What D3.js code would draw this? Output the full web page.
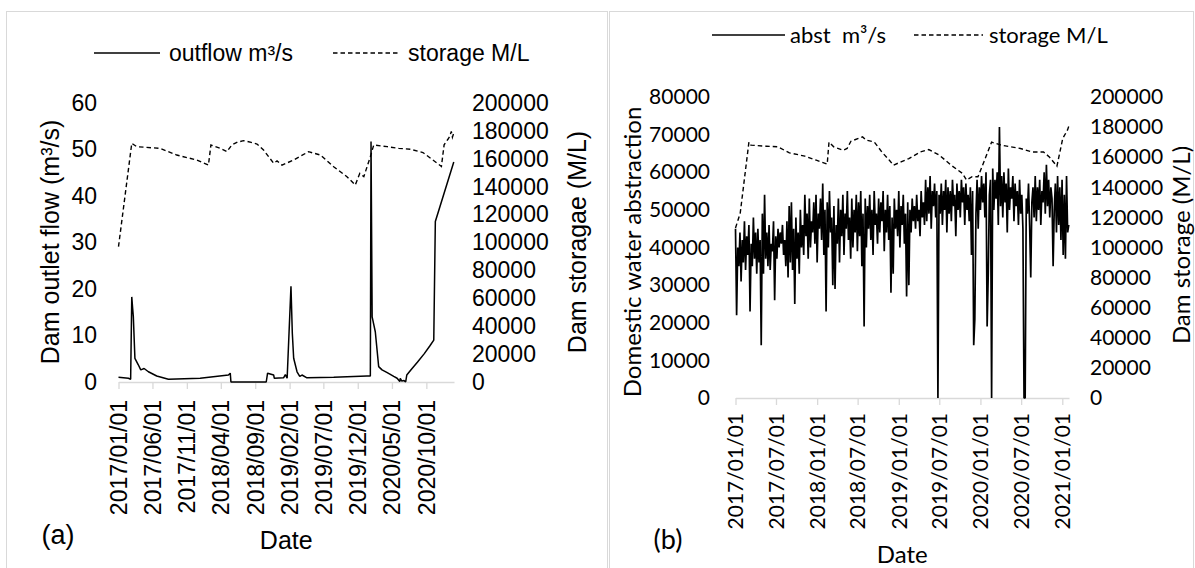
<!DOCTYPE html>
<html><head><meta charset="utf-8">
<script src="https://cdn.jsdelivr.net/npm/d3@7"></script>
<style>body{margin:0;background:#fff}</style>
</head><body><svg id="c" width="1195" height="568"></svg>
<script>
// ---------- Panel (a) data ----------
const outflowDates = ["2017-01-01","2017-02-14","2017-02-24","2017-03-01","2017-03-05","2017-03-08","2017-03-15","2017-03-30","2017-04-10","2017-04-25","2017-05-14","2017-06-20","2017-08-11","2017-12-30","2018-05-05","2018-05-13","2018-05-16","2018-10-20","2018-10-26","2018-11-22","2018-11-25","2019-01-05","2019-01-13","2019-01-21","2019-02-07","2019-02-13","2019-02-19","2019-03-06","2019-03-18","2019-03-28","2019-04-19","2019-08-16","2020-01-11","2020-01-26","2020-01-29","2020-02-03","2020-02-17","2020-03-03","2020-03-18","2020-04-10","2020-05-09","2020-05-24","2020-06-05","2020-06-07","2020-06-14","2020-06-24","2020-07-01","2020-07-06","2020-07-24","2020-08-23","2020-09-22","2020-10-17","2020-11-03","2020-11-06","2020-11-10","2021-01-31"];
const outflowValues = [1.0,0.8,0.6,18.3,15.8,14.0,5.1,3.7,2.6,2.9,2.2,1.3,0.6,0.8,1.5,1.9,0,0,1.9,1.5,0.8,0.9,1.6,0.8,20.6,10.5,5.1,2.2,1.2,1.5,0.9,1.0,1.3,1.3,51.7,14.0,10.8,3.3,2.6,2.0,1.2,0.8,0.1,0.8,0.2,0.3,0,1.5,2.6,4.3,6.1,7.8,9.0,20.0,34.5,47.3];
const storageADates = ["2017-01-01","2017-03-01","2017-03-23","2017-07-05","2017-09-17","2017-12-15","2018-02-05","2018-02-16","2018-03-29","2018-04-28","2018-05-20","2018-06-15","2018-07-11","2018-08-14","2018-09-09","2018-10-08","2018-11-22","2018-12-07","2018-12-29","2019-02-19","2019-04-26","2019-06-18","2019-08-16","2019-10-14","2019-11-20","2019-12-10","2019-12-28","2020-01-26","2020-02-10","2020-04-10","2020-05-31","2020-07-24","2020-09-16","2020-10-29","2020-12-07","2020-12-19","2021-01-05","2021-01-13","2021-01-20","2021-01-25","2021-01-31"];
const storageAValues = [97000,171100,168700,167500,162700,159100,155500,169900,167500,165100,169900,172000,173000,171800,170600,166300,156800,158500,155500,159100,165100,162700,154300,147200,141200,149600,147200,161500,169900,168700,167500,166800,164500,159300,154500,170000,174000,176000,179600,175500,178500];
const tickDatesA = ["2017-01-01","2017-06-01","2017-11-01","2018-04-01","2018-09-01","2019-02-01","2019-07-01","2019-12-01","2020-05-01","2020-10-01"];
const leftTicksA = [0,10,20,30,40,50,60];
const rightTicksA = [0,20000,40000,60000,80000,100000,120000,140000,160000,180000,200000];

// ---------- Panel (b) data ----------
const absStart = "2017-01-01";   // one value every 5 days
const absValuesK = [
45,22,40,35,44,31,42,36,47,34, 43,38,46,23,41,35,48,37,44,33, 45,36,42,14,49,33,54,37,44,35,
46,34,41,39,47,26,43,37,45,40, 44,41,46,38,42,35,47,32,51,36, 52,34,45,25,48,37,44,33,50,40,
46,38,54,43,49,37,53,40,47,44, 52,41,54,36,49,45,53,42,57,38, 50,23,52,40,55,44,48,30,51,29,
46,41,53,36,50,43,54,38,49,45, 55,42,48,37,53,40,50,44,54,39, 52,43,55,35,49,19,53,40,51,45,
54,42,50,38,55,46,49,41,53,44, 52,47,55,39,50,44,54,42,51,28, 48,33,53,45,50,43,55,40,51,46,
54,41,49,27,52,30,50,44,53,47, 51,45,54,47,50,43,55,48,52,46, 58,47,56,49,59,45,55,51,57,48,
55,0,54,49,57,46,55,50,58,44, 56,49,55,47,58,51,54,43,57,50, 55,48,58,52,56,46,57,50,54,47,
56,38,55,14,21,49,58,45,56,50, 59,52,57,48,60,19,33,54,58,0, 61,50,58,53,60,46,72,51,59,48,
60,52,57,44,61,50,56,53,59,47, 57,51,55,46,58,49,54,45,0,0, 53,49,57,46,32,52,56,48,59,47,
56,50,58,46,55,52,60,49,62,51, 58,48,56,53,35,50,57,44,59,46, 56,42,58,38,54,37,59,44,46];
const storageBDates = ["2017-01-01","2017-01-22","2017-03-02","2017-03-11","2017-05-19","2017-07-09","2017-08-30","2017-11-07","2017-12-28","2018-02-15","2018-02-23","2018-03-16","2018-04-28","2018-05-15","2018-06-01","2018-07-23","2018-08-09","2018-09-13","2018-09-30","2018-10-17","2018-11-20","2018-12-08","2019-01-11","2019-02-15","2019-04-07","2019-05-15","2019-07-02","2019-08-23","2019-10-13","2019-10-31","2019-11-25","2019-12-21","2020-01-08","2020-02-20","2020-04-03","2020-06-28","2020-08-18","2020-10-09","2020-11-04","2020-12-08","2021-01-03","2021-01-24","2021-01-31"];
const storageBValues = [113000,122700,170000,168000,167300,166900,162900,160700,158000,155400,170000,166900,164600,165800,170600,173500,171300,170200,166900,163500,158000,154700,156900,159100,163500,165100,161300,154700,149200,144800,147000,147000,153600,170000,168000,165800,163500,163500,160200,154000,172400,178000,181000];
const tickDatesB = ["2017-01-01","2017-07-01","2018-01-01","2018-07-01","2019-01-01","2019-07-01","2020-01-01","2020-07-01","2021-01-01"];
const leftTicksB = [0,10000,20000,30000,40000,50000,60000,70000,80000];
const rightTicksB = [0,20000,40000,60000,80000,100000,120000,140000,160000,180000,200000];

// ---------- drawing ----------
const parse = d3.utcParse("%Y-%m-%d");
const fmt = d3.utcFormat("%Y/%m/%d");
const svg = d3.select("#c");
const GRID = "#d9d9d9";

svg.append("rect").attr("x",6.5).attr("y",11.5).attr("width",601).attr("height",570)
  .attr("fill","none").attr("stroke",GRID);
svg.append("rect").attr("x",609.5).attr("y",11.5).attr("width",584).attr("height",570)
  .attr("fill","none").attr("stroke",GRID);

function panel(o){
  const g = svg.append("g").style("font-family", o.font);
  const x = d3.scaleUtc().domain([parse(o.domain[0]), parse(o.domain[1])]).range([o.x0, o.x1]);
  const yL = d3.scaleLinear().domain([0, o.leftMax]).range([o.yb, o.yt]);
  const yR = d3.scaleLinear().domain([0, 200000]).range([o.yb, o.yt]);

  const xa = g.append("g").attr("transform",`translate(0,${o.yb})`)
    .call(d3.axisBottom(x).tickValues(o.ticks.map(parse)).tickFormat(fmt)
      .tickSize(7).tickSizeOuter(0));
  xa.select(".domain").attr("stroke",GRID).attr("stroke-width",1.3);
  xa.selectAll(".tick line").attr("stroke",GRID).attr("stroke-width",1.3);
  xa.selectAll(".tick text").attr("transform","rotate(-90)").attr("x",-o.labOff).attr("y",0)
    .attr("dy","0.35em").attr("text-anchor","end").attr("fill","#000")
    .style("font-size",o.tickFs+"px").style("font-family",o.font);

  const la = g.append("g").attr("transform",`translate(${o.lx},0)`)
    .call(d3.axisLeft(yL).tickValues(o.leftTicks).tickSize(0).tickPadding(0).tickFormat(d3.format("d")));
  la.select(".domain").remove();
  la.selectAll("text").attr("fill","#000").style("font-size",o.tickFs+"px").style("font-family",o.font);
  const ra = g.append("g").attr("transform",`translate(${o.rx},0)`)
    .call(d3.axisRight(yR).tickValues(o.rightTicks).tickSize(0).tickPadding(0).tickFormat(d3.format("d")));
  ra.select(".domain").remove();
  ra.selectAll("text").attr("fill","#000").style("font-size",o.tickFs+"px").style("font-family",o.font);

  const lineL = d3.line().x(d=>x(d[0])).y(d=>yL(d[1]));
  const lineR = d3.line().x(d=>x(d[0])).y(d=>yR(d[1]));
  g.append("path").datum(o.storage).attr("d",lineR).attr("fill","none")
    .attr("stroke","#000").attr("stroke-width",1.4).attr("stroke-dasharray","4.5,3");
  g.append("path").datum(o.main).attr("d",lineL).attr("fill","none")
    .attr("stroke","#000").attr("stroke-width",o.mainW).attr("stroke-linejoin","bevel");

  g.append("text").attr("transform",`translate(${o.ltx},${o.lty}) rotate(-90)`)
    .attr("text-anchor","middle").attr("dy","0.35em").style("font-size",o.titleFs+"px").text(o.leftTitle);
  g.append("text").attr("transform",`translate(${o.rtx},${o.rty}) rotate(-90)`)
    .attr("text-anchor","middle").attr("dy","0.35em").style("font-size",o.titleFs+"px").text(o.rightTitle);
  g.append("text").attr("x",(o.x0+o.x1)/2).attr("y",o.dateY).attr("text-anchor","middle")
    .attr("dy","0.35em").style("font-size",o.titleFs+"px").text("Date");
  g.append("text").attr("x",o.tagX).attr("y",o.tagY).attr("text-anchor","middle")
    .attr("dy","0.35em").style("font-size",o.tagFs+"px").text(o.tag);

  const L = o.legend;
  g.append("line").attr("x1",L.s1).attr("x2",L.s2).attr("y1",L.y).attr("y2",L.y)
    .attr("stroke","#000").attr("stroke-width",1.4);
  g.append("text").attr("x",L.t1).attr("y",L.y).attr("dy","0.35em").style("white-space","pre")
    .style("font-size",L.fs+"px").text(o.mainName);
  g.append("line").attr("x1",L.d1).attr("x2",L.d2).attr("y1",L.y).attr("y2",L.y)
    .attr("stroke","#000").attr("stroke-width",1.4).attr("stroke-dasharray","4.5,3");
  g.append("text").attr("x",L.t2).attr("y",L.y).attr("dy","0.35em").style("font-size",L.fs+"px").text("storage M/L");
}

panel({
  font:"'Liberation Sans', Arial, sans-serif",
  domain:["2017-01-01","2021-02-01"], x0:118.5, x1:454, yb:382, yt:103,
  leftMax:60, ticks:tickDatesA, leftTicks:leftTicksA, rightTicks:rightTicksA,
  lx:97, rx:472, tickFs:23, labOff:18,
  main: outflowDates.map((d,i)=>[parse(d), outflowValues[i]]), mainW:1.5,
  storage: storageADates.map((d,i)=>[parse(d), storageAValues[i]]),
  leftTitle:"Dam outlet flow (m³/s)", rightTitle:"Dam storagae (M/L)",
  ltx:50, lty:242, rtx:577, rty:242, titleFs:25, dateY:540,
  tag:"(a)", tagX:58, tagY:535, tagFs:27,
  mainName:"outflow m³/s",
  legend:{y:53, s1:94, s2:160, t1:169, d1:333, d2:400, t2:408, fs:23}
});

panel({
  font:"Lato, 'Open Sans', sans-serif",
  domain:["2017-01-01","2021-01-31"], x0:735.5, x1:1069, yb:398, yt:97,
  leftMax:80000, ticks:tickDatesB, leftTicks:leftTicksB, rightTicks:rightTicksB,
  lx:710, rx:1090, tickFs:21, labOff:15,
  main: absValuesK.map((v,i)=>[d3.utcDay.offset(parse(absStart), i*5), v*1000]), mainW:1.7,
  storage: storageBDates.map((d,i)=>[parse(d), storageBValues[i]]),
  leftTitle:"Domestic water abstraction", rightTitle:"Dam storage (M/L)",
  ltx:633, lty:252, rtx:1182, rty:245, titleFs:24, dateY:555,
  tag:"(b)", tagX:668, tagY:540, tagFs:27,
  mainName:"abst  m³/s",
  legend:{y:35, s1:712, s2:785, t1:790, d1:914, d2:983, t2:989, fs:22}
});
</script></body></html>
